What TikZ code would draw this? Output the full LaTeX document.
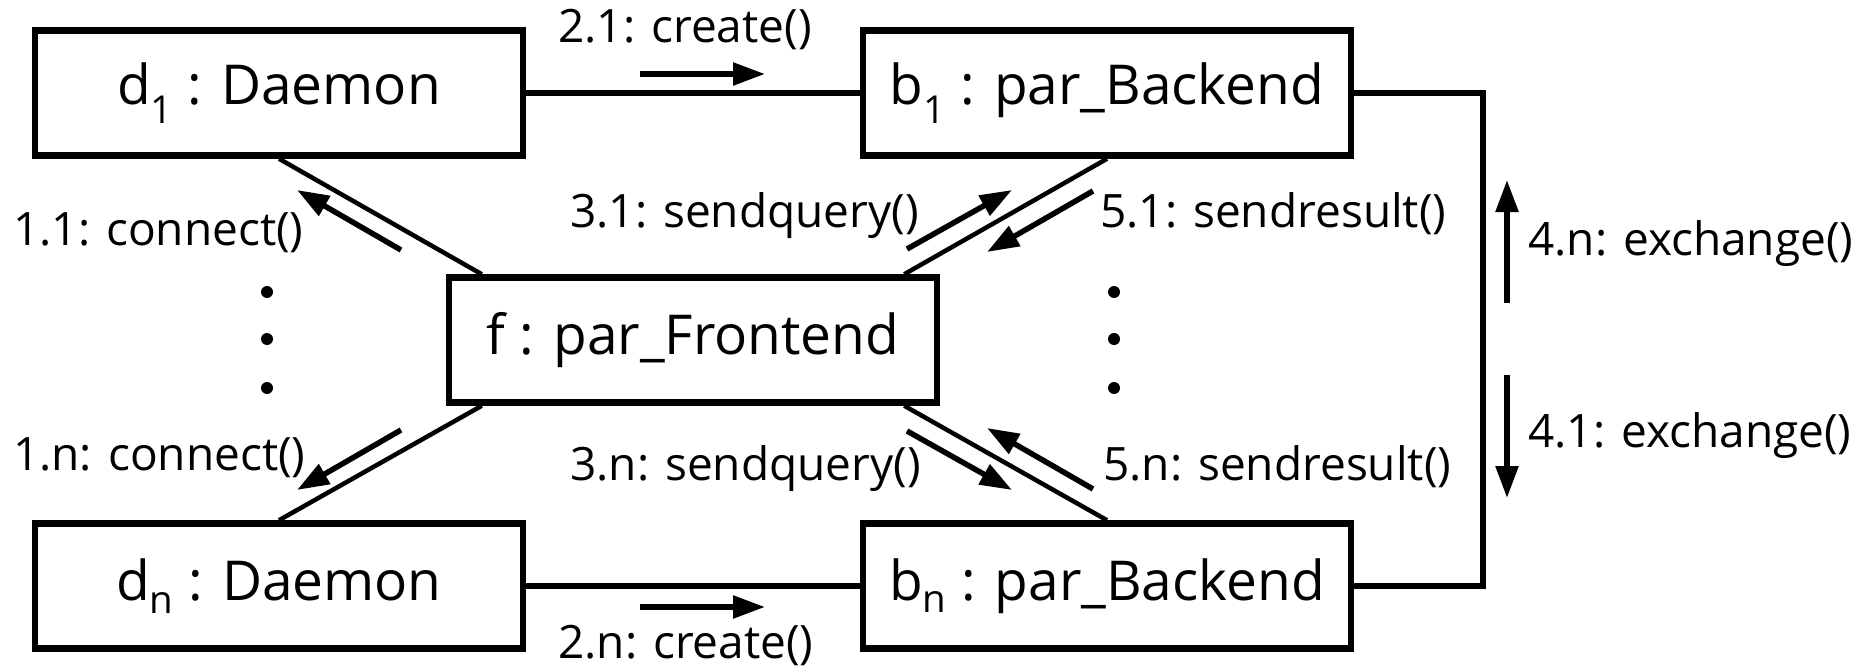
\documentclass[tikz,border=0pt]{standalone}
\usepackage{fontspec}
\setmainfont{Open Sans}
\usetikzlibrary{arrows.meta,calc}
\begin{document}
\begin{tikzpicture}[x=1pt,y=-1pt,
  obj/.style={draw,line width=6.5pt,minimum width=488pt,minimum height=125pt,inner sep=0pt,font=\fontsize{55}{60}\selectfont},
  lbl/.style={inner sep=0pt,anchor=base west,font=\fontsize{46}{50}\selectfont},
  link/.style={line width=5.5pt},
  diag/.style={line width=4.5pt},
  msg/.style={line width=5.5pt,-{Triangle[length=32pt,width=22pt]}},
  dot/.style={fill=black,circle,inner sep=0pt,minimum size=12pt}
]
\useasboundingbox (0,0) rectangle (1862,671);

\node[obj] (d1) at (279,93) {d\textsubscript{1} : Daemon};
\node[obj] (b1) at (1107,93) {b\textsubscript{1} : par\_Backend};
\node[obj] (f) at (693,340) {f : par\_Frontend};
\node[obj] (dn) at (279,586) {d\textsubscript{n} : Daemon};
\node[obj] (bn) at (1107,586) {b\textsubscript{n} : par\_Backend};

\coordinate (bus) at (1483,340);
\draw[link] (d1) -- (b1);
\draw[link] (dn) -- (bn);
\draw[link] (b1.east) -| (bus) |- (bn.east);

\draw[diag] (d1.south) -- ($(f.north west)+(36,0)$);
\draw[diag] (b1.south) -- ($(f.north east)+(-36,0)$);
\draw[diag] ($(f.south west)+(36,0)$) -- (dn.north);
\draw[diag] ($(f.south east)+(-36,0)$) -- (bn.north);

\coordinate (m21s) at (640,74);   \coordinate (m21e) at (765,74);
\coordinate (m2ns) at (640,607);  \coordinate (m2ne) at (765,607);
\coordinate (m11s) at (401,250);  \coordinate (m11e) at (297,190);
\coordinate (m1ns) at (401,430);  \coordinate (m1ne) at (297,490);
\coordinate (m31s) at (907,249);  \coordinate (m31e) at (1012,190);
\coordinate (m51s) at (1093,191); \coordinate (m51e) at (987,252);
\coordinate (m3ns) at (907,431);  \coordinate (m3ne) at (1012,490);
\coordinate (m5ns) at (1093,489); \coordinate (m5ne) at (987,428);
\coordinate (m4ns) at (1507,303); \coordinate (m4ne) at (1507,180);
\coordinate (m41s) at (1507,375); \coordinate (m41e) at (1507,498);
\foreach \m in {21,2n,11,1n,31,51,3n,5n,4n,41}
  \draw[msg] (m\m s) -- (m\m e);

\node[lbl] (t21) at (558,43) {2.1: create()};
\node[lbl] (t2n) at (558,658) {2.n: create()};
\node[lbl] (t11) at (13,245) {1.1: connect()};
\node[lbl] (t1n) at (13,470) {1.n: connect()};
\node[lbl] (t31) at (570,227) {3.1: sendquery()};
\node[lbl] (t51) at (1100,227) {5.1: sendresult()};
\node[lbl] (t3n) at (570,480) {3.n: sendquery()};
\node[lbl] (t5n) at (1103,480) {5.n: sendresult()};
\node[lbl] (t4n) at (1528,255) {4.n: exchange()};
\node[lbl] (t41) at (1528,447) {4.1: exchange()};

\foreach \x/\n in {267/l,1114/r}
  \foreach \y/\k in {292/1,339/2,388/3}
    \node[dot] (dot\n\k) at (\x,\y) {};
\end{tikzpicture}
\end{document}
